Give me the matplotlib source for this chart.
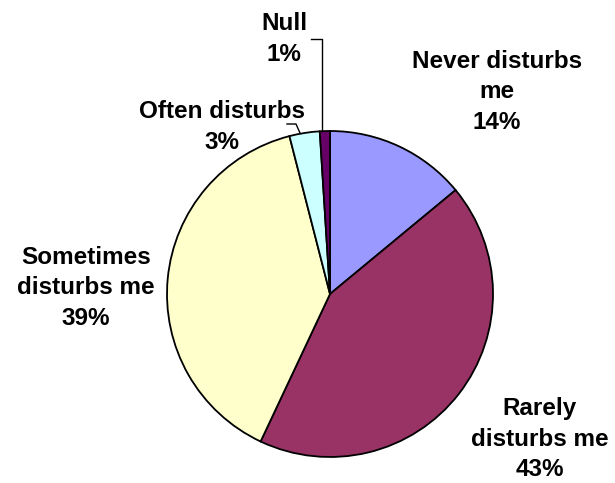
import matplotlib
matplotlib.use("Agg")
import matplotlib.pyplot as plt

categories = ["Never disturbs\nme", "Rarely\ndisturbs me", "Sometimes\ndisturbs me", "Often disturbs", "Null"]
values = [14, 43, 39, 3, 1]
colors = ["#9999FF", "#993366", "#FFFFCC", "#CCFFFF", "#660066"]

W, H = 615, 483
fig = plt.figure(figsize=(W / 100, H / 100), dpi=100)
ax = fig.add_axes([0, 0, 1, 1])
ax.set_xlim(0, W)
ax.set_ylim(0, H)
ax.set_aspect("equal")
ax.axis("off")

cx, cy, r = 330, H - 294, 163
ax.pie(values, colors=colors, startangle=90, counterclock=False,
       center=(cx, cy), radius=r, frame=True,
       wedgeprops=dict(edgecolor="black", linewidth=1.3))
ax.set_xlim(0, W)
ax.set_ylim(0, H)
ax.axis("off")

label_pos = [(497, 92), (540, 439), (86, 288), (222, 127), (284, 39)]
fs = 17.5
for cat, v, (x, y) in zip(categories, values, label_pos):
    ax.text(x, H - y, f"{cat}\n{v}%", ha="center", va="center",
            fontsize=fs, fontweight="bold", family="Liberation Sans",
            linespacing=1.4, color="black")

# leader lines
ax.plot([322, 322, 311], [H - 131, H - 39, H - 39], color="black", lw=1)
ax.plot([300, 296, 287], [H - 133, H - 124, H - 124], color="black", lw=1)

fig.savefig("out.png", dpi=100)
